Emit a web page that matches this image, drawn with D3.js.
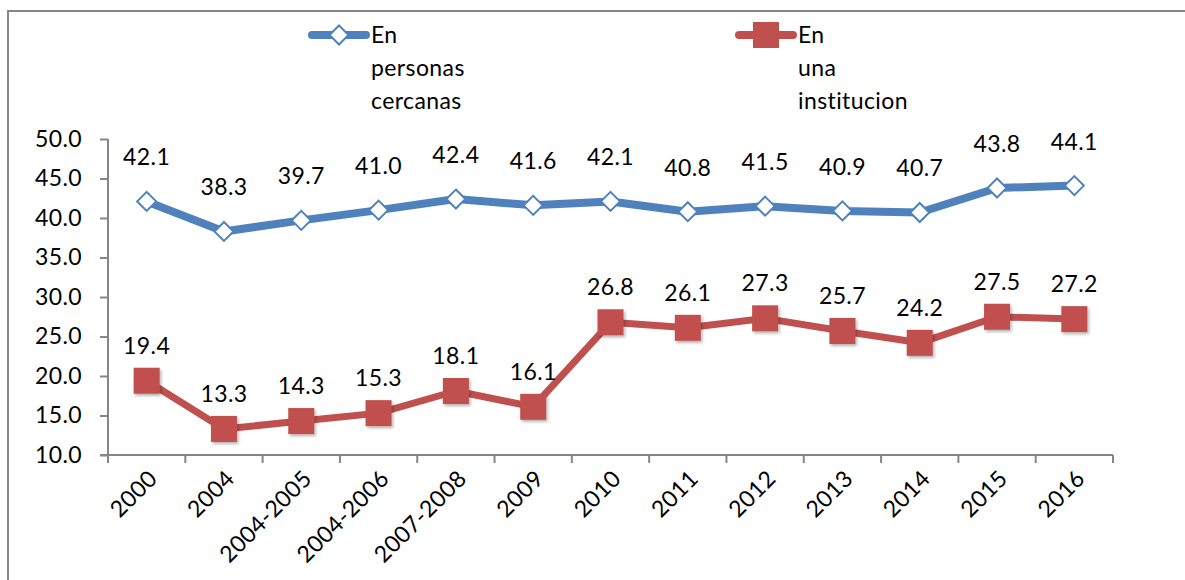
<!DOCTYPE html>
<meta charset="utf-8">
<style>
body { margin: 0; background: #fff; }
text { font-family: Lato, 'Open Sans', sans-serif; font-size: 23px; letter-spacing: 0.4px; fill: #000; }
.axis path, .axis line { stroke: #868686; stroke-width: 2px; }
</style>
<svg width="1185" height="580"></svg>
<script src="https://d3js.org/d3.v7.min.js"></script>
<script>
var years = ["2000", "2004", "2004-2005", "2004-2006", "2007-2008", "2009", "2010",
	"2011", "2012", "2013", "2014", "2015", "2016"];
var cercanas = [42.1, 38.3, 39.7, 41.0, 42.4, 41.6, 42.1, 40.8, 41.5, 40.9, 40.7, 43.8, 44.1];
var institucion = [19.4, 13.3, 14.3, 15.3, 18.1, 16.1, 26.8, 26.1, 27.3, 25.7, 24.2, 27.5, 27.2];
var yTicks = [10, 15, 20, 25, 30, 35, 40, 45, 50];

var svg = d3.select("svg");

// chart frame
svg.append("path")
	.attr("d", "M8,580 V11 H1185")
	.attr("fill", "none")
	.attr("stroke", "#868686")
	.attr("stroke-width", 2);

var x = d3.scaleBand().domain(years).range([108, 1113]);
var y = d3.scaleLinear().domain([10, 50]).range([455, 139]);

var defs = svg.append("defs");
var f = defs.append("filter").attr("id", "shadow").attr("x", "-30%").attr("y", "-30%").attr("width", "160%").attr("height", "160%");
f.append("feDropShadow").attr("dx", 1.5).attr("dy", 2).attr("stdDeviation", 1.5).attr("flood-color", "#000").attr("flood-opacity", 0.3);

// y axis
var yAxis = svg.append("g").attr("class", "axis")
	.attr("transform", "translate(108,0)")
	.call(d3.axisLeft(y).tickValues(yTicks).tickFormat(d3.format(".1f")).tickSize(8).tickPadding(18));
yAxis.select(".domain").attr("d", "M0," + y(10) + "V" + y(50));

// x axis, ticks at band edges
var xg = svg.append("g").attr("class", "axis");
xg.append("line").attr("x1", 100).attr("x2", x.range()[1]).attr("y1", y(10)).attr("y2", y(10));
var edges = years.map(function(d) { return x(d); }).concat([x.range()[1]]);
xg.selectAll(".tk").data(edges).enter().append("line")
	.attr("x1", function(d) { return d; }).attr("x2", function(d) { return d; })
	.attr("y1", y(10)).attr("y2", y(10) + 8);
xg.selectAll(".lbl").data(years).enter().append("text")
	.attr("text-anchor", "end")
	.attr("transform", function(d) {
		var cx = x(d) + x.bandwidth() / 2 + 12;
		return "translate(" + cx + "," + (y(10) + 25) + ") rotate(-45)";
	})
	.text(function(d) { return d; });

function cx(i) { return x(years[i]) + x.bandwidth() / 2; }

var line = d3.line()
	.x(function(d, i) { return cx(i); })
	.y(function(d) { return y(d); });

// blue series
svg.append("path").datum(cercanas)
	.attr("d", line)
	.attr("fill", "none")
	.attr("stroke", "#4F81BD")
	.attr("stroke-width", 8)
	.attr("stroke-linejoin", "round");

var diamond = d3.symbol().type(d3.symbolDiamond2).size(230);
svg.selectAll(".dm").data(cercanas).enter().append("path")
	.attr("d", diamond)
	.attr("transform", function(d, i) { return "translate(" + cx(i) + "," + y(d) + ")"; })
	.attr("fill", "#fff")
	.attr("stroke", "#4F81BD")
	.attr("stroke-width", 2);

// red series
svg.append("path").datum(institucion)
	.attr("d", line)
	.attr("fill", "none")
	.attr("stroke", "#C0504D")
	.attr("stroke-width", 7)
	.attr("stroke-linejoin", "round");

svg.selectAll(".sq").data(institucion).enter().append("rect")
	.attr("x", function(d, i) { return cx(i) - 13; })
	.attr("y", function(d) { return y(d) - 13; })
	.attr("width", 26).attr("height", 26)
	.attr("fill", "#C0504D")
	.attr("filter", "url(#shadow)");

// data labels
svg.selectAll(".lb1").data(cercanas).enter().append("text")
	.attr("x", function(d, i) { return cx(i); })
	.attr("y", function(d) { return y(d) - 36; })
	.attr("text-anchor", "middle")
	.text(function(d) { return d.toFixed(1); });
svg.selectAll(".lb2").data(institucion).enter().append("text")
	.attr("x", function(d, i) { return cx(i); })
	.attr("y", function(d) { return y(d) - 27; })
	.attr("text-anchor", "middle")
	.text(function(d) { return d.toFixed(1); });

// legend
var legend = [
	{ x: 308, lines: ["En", "personas", "cercanas"], color: "#4F81BD", mark: "diamond" },
	{ x: 735, lines: ["En", "una", "institucion"], color: "#C0504D", mark: "square" }
];
legend.forEach(function(l) {
	var g = svg.append("g");
	g.append("line")
		.attr("x1", l.x + 4).attr("x2", l.x + 58)
		.attr("y1", 35).attr("y2", 35)
		.attr("stroke", l.color).attr("stroke-width", 8).attr("stroke-linecap", "round");
	if (l.mark == "diamond") {
		g.append("path").attr("d", diamond)
			.attr("transform", "translate(" + (l.x + 31) + ",35)")
			.attr("fill", "#fff").attr("stroke", l.color).attr("stroke-width", 2);
	} else {
		g.append("rect").attr("x", l.x + 18).attr("y", 22).attr("width", 26).attr("height", 26)
			.attr("fill", l.color);
	}
	g.selectAll("text").data(l.lines).enter().append("text")
		.attr("x", l.x + 63)
		.attr("y", function(d, i) { return 43 + i * 33; })
		.text(function(d) { return d; });
});
</script>
